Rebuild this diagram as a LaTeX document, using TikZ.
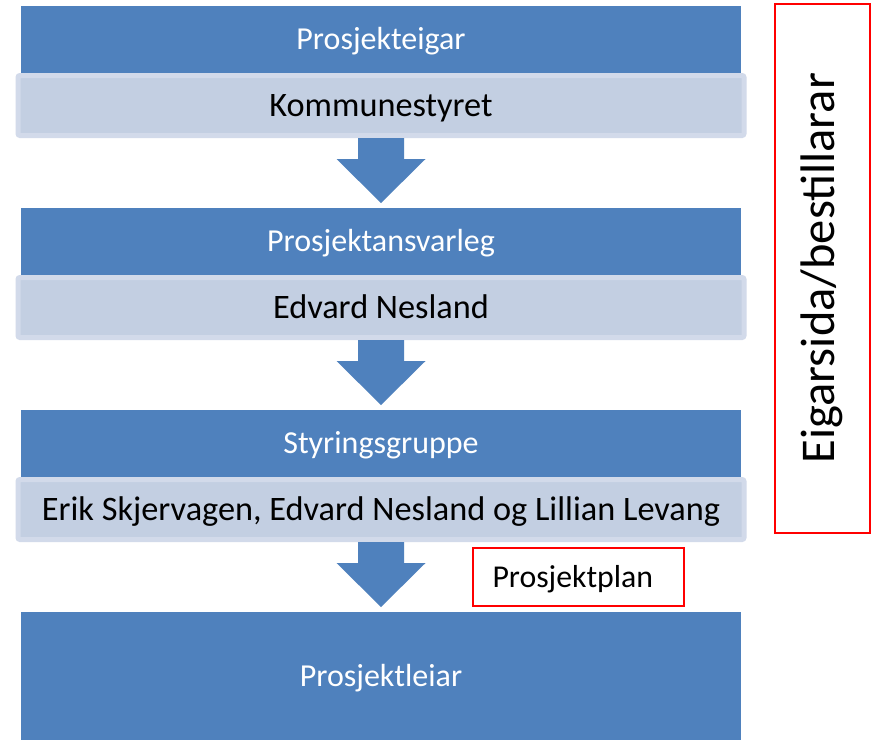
\documentclass[tikz,border=0pt]{standalone}
\usepackage{fontspec}
\setmainfont{Carlito}
\usetikzlibrary{positioning,calc}

\definecolor{hdblue}{RGB}{79,129,189}
\definecolor{lightfill}{RGB}{195,207,226}
\definecolor{lightedge}{RGB}{210,218,234}

\tikzset{
  head/.style={fill=hdblue, text=white, minimum width=720pt, minimum height=67pt,
               inner sep=0pt, outer sep=0pt, text height=27pt, text depth=7pt,
               font=\fontsize{32}{38}\selectfont},
  member/.style={fill=lightfill, draw=lightedge, line width=5pt, rounded corners=2pt,
                 minimum width=726pt, minimum height=60pt, inner sep=0pt, outer sep=2.5pt,
                 text height=28pt, text depth=7pt, font=\fontsize{34.3}{40}\selectfont},
  redbox/.style={draw=red, line width=2pt, outer sep=0pt},
}

% block arrow from the bottom of one box to the top of the next
\newcommand{\blockarrow}[2]{%
  \fill[hdblue] ($(#1.south)+(-23pt,0)$) -- ++(0,-21pt) -- ++(-21.5pt,0)
    -- ($(#2.north)+(0,5pt)$) -- ($(#1.south)+(44.5pt,-21pt)$) -- ++(-21.5pt,0)
    -- ($(#1.south)+(23pt,0)$) -- cycle;}

\begin{document}
\begin{tikzpicture}[x=1pt,y=1pt]
  \useasboundingbox[fill=white] (0,0) rectangle (874,-739);

  \node[head, anchor=north] (eigar) at (381,-6) {Prosjekteigar};
  \node[member, below=0pt of eigar] (kommune) {Kommunestyret};

  \node[head, below=70pt of kommune] (ansvar) {Prosjektansvarleg};
  \node[member, below=0pt of ansvar] (edvard) {Edvard Nesland};

  \node[head, below=70pt of edvard] (styring) {Styringsgruppe};
  \node[member, below=0pt of styring] (gruppe) {Erik Skjervagen, Edvard Nesland og Lillian Levang};

  \node[head, minimum height=128pt, below=70pt of gruppe] (leiar) {Prosjektleiar};

  \blockarrow{kommune}{ansvar}
  \blockarrow{edvard}{styring}
  \blockarrow{gruppe}{leiar}

  \node[redbox, minimum width=211pt, minimum height=58pt, text width=171pt,
        inner xsep=20pt, align=left, text height=28pt, text depth=6pt,
        font=\fontsize{31.8}{36}\selectfont,
        anchor=north west] (plan) at (472.5,-547.5) {Prosjektplan};

  \node[redbox, minimum width=95pt, minimum height=529pt, anchor=north west]
        (eigarside) at (774.5,-3.5) {};
  \node[rotate=90, font=\fontsize{48.5}{54}\selectfont] (eigartekst)
        at (eigarside.center) {Eigarsida/bestillarar};
\end{tikzpicture}
\end{document}
